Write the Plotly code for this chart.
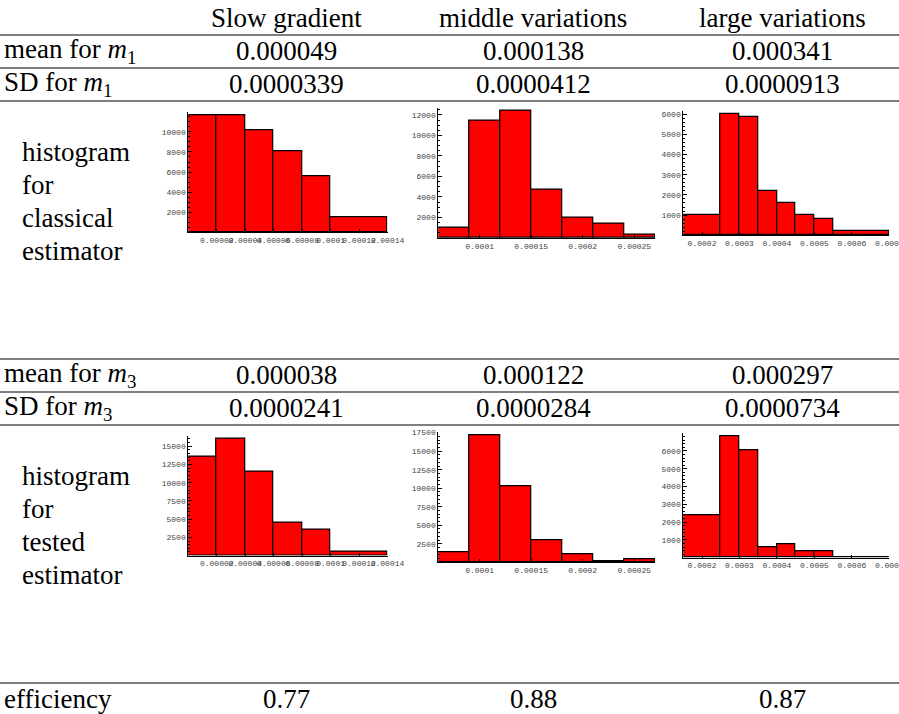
import plotly.graph_objects as go

W, H = 899, 714

# ---------------- data ----------------
columns = ["Slow gradient", "middle variations", "large variations"]
mean_m1 = ["0.000049", "0.000138", "0.000341"]
sd_m1 = ["0.0000339", "0.0000412", "0.0000913"]
mean_m3 = ["0.000038", "0.000122", "0.000297"]
sd_m3 = ["0.0000241", "0.0000284", "0.0000734"]
efficiency = ["0.77", "0.88", "0.87"]

slow_edges = [0, 0.00002, 0.00004, 0.00006, 0.00008, 0.0001, 0.00014]
slow_classical = [11660, 11660, 10130, 8060, 5560, 1460]
slow_tested = [13510, 16020, 11460, 4550, 3500, 600]

middle_edges = [0.00006, 0.00009, 0.00012, 0.00015, 0.00018, 0.00021, 0.00024, 0.00027]
middle_classical = [1005, 11440, 12420, 4680, 1980, 1370, 360]
middle_tested = [1340, 17110, 10240, 2980, 1020, 130, 400]

large_edges = [0.00015, 0.00025, 0.0003, 0.00035, 0.0004, 0.00045, 0.0005, 0.00055, 0.0007]
large_classical = [1000, 6030, 5850, 2200, 1590, 990, 805, 190]
large_tested = [2400, 6840, 6030, 590, 775, 360, 360, 40]

slow_xticks = [0.00002, 0.00004, 0.00006, 0.00008, 0.0001, 0.00012, 0.00014]
slow_xlabels = ["0.00002", "0.00004", "0.00006", "0.00008", "0.0001", "0.00012", "0.00014"]
middle_xticks = [0.0001, 0.00015, 0.0002, 0.00025]
middle_xlabels = ["0.0001", "0.00015", "0.0002", "0.00025"]
large_xticks = [0.0002, 0.0003, 0.0004, 0.0005, 0.0006, 0.0007]
large_xlabels = ["0.0002", "0.0003", "0.0004", "0.0005", "0.0006", "0.0007"]

yt_slow_c = [2000, 4000, 6000, 8000, 10000]
yt_mid_c = [2000, 4000, 6000, 8000, 10000, 12000]
yt_large = [1000, 2000, 3000, 4000, 5000, 6000]
yt_slow_t = [2500, 5000, 7500, 10000, 12500, 15000]
yt_mid_t = [2500, 5000, 7500, 10000, 12500, 15000, 17500]

# ---------------- layout helpers ----------------
SERIF = "Liberation Serif"
FS = 27
MONO = "Liberation Mono"


def px(xp):
    return xp / W


def py(yp):
    return 1 - yp / H


fig = go.Figure()

panels = [
    (slow_edges, slow_classical, (188.3, 387.5), (112.3, 232.3), 11950, yt_slow_c, 500, slow_xticks, slow_xlabels),
    (middle_edges, middle_classical, (438.3, 655.0), (107.7, 238.0), 12700, yt_mid_c, 500, middle_xticks, middle_xlabels),
    (large_edges, large_classical, (683.3, 889.3), (111.0, 235.2), 6170, yt_large, 200, large_xticks, large_xlabels),
    (slow_edges, slow_tested, (188.3, 387.5), (435.7, 555.6), 16450, yt_slow_t, 500, slow_xticks, slow_xlabels),
    (middle_edges, middle_tested, (438.3, 655.0), (432.3, 562.3), 17550, yt_mid_t, 500, middle_xticks, middle_xlabels),
    (large_edges, large_tested, (683.3, 889.3), (433.3, 557.7), 6990, yt_large, 200, large_xticks, large_xlabels),
]

tickfont = dict(family=MONO, size=8, color="#444")

for i, (edges, counts, xb, yb, ymax, yticks, minor, xt, xl) in enumerate(panels, start=1):
    centers = [(a + b) / 2 for a, b in zip(edges[:-1], edges[1:])]
    widths = [b - a for a, b in zip(edges[:-1], edges[1:])]
    xa = "x" if i == 1 else f"x{i}"
    ya = "y" if i == 1 else f"y{i}"
    fig.add_trace(go.Bar(
        x=centers, y=counts, width=widths,
        marker=dict(color="#ff0000", line=dict(color="black", width=1.2)),
        xaxis=xa, yaxis=ya, showlegend=False, hoverinfo="skip",
    ))
    xkey = "xaxis" if i == 1 else f"xaxis{i}"
    ykey = "yaxis" if i == 1 else f"yaxis{i}"
    span = edges[-1] - edges[0]
    fig.layout[xkey] = dict(
        domain=[px(xb[0]), px(xb[1])], range=[edges[0], edges[-1] + span * 1e-6],
        anchor=ya, showgrid=False, zeroline=False, showline=True,
        linecolor="black", linewidth=1, ticks="inside", ticklen=3,
        tickcolor="black", tickvals=xt, ticktext=xl, tickfont=tickfont,
        tickangle=0, ticklabeloverflow="allow", fixedrange=True, automargin=False,
    )
    fig.layout[ykey] = dict(
        domain=[py(yb[1]), py(yb[0])], range=[0, ymax],
        anchor=xa, showgrid=False, zeroline=False, showline=True,
        linecolor="black", linewidth=1, ticks="inside", ticklen=4,
        tickcolor="black", tickvals=yticks, ticktext=[str(v) for v in yticks],
        tickfont=tickfont, ticklabeloverflow="allow",
        minor=dict(ticks="inside", ticklen=2, dtick=minor, tickcolor="black", showgrid=False),
        fixedrange=True, automargin=False,
    )

# ---------------- table text ----------------
col_x = [286, 533, 782]
ann = []


def text(x, y, s, xanchor="center"):
    ann.append(dict(x=px(x), y=py(y), xref="paper", yref="paper", text=s,
                    showarrow=False, xanchor=xanchor, yanchor="middle",
                    font=dict(family=SERIF, size=FS, color="black")))


header_y, m1_y, sd1_y = 18, 51, 84
m3_y, sd3_y, eff_y = 375, 408, 699

for cx, c in zip(col_x, columns):
    text(cx, header_y, c)
for cx, v in zip(col_x, mean_m1):
    text(cx, m1_y, v)
for cx, v in zip(col_x, sd_m1):
    text(cx, sd1_y, v)
for cx, v in zip(col_x, mean_m3):
    text(cx, m3_y, v)
for cx, v in zip(col_x, sd_m3):
    text(cx, sd3_y, v)
for cx, v in zip(col_x, efficiency):
    text(cx, eff_y, v)

text(2, m1_y, "mean for <i>m</i><sub>1</sub>", "left")
text(2, sd1_y, "SD for <i>m</i><sub>1</sub>", "left")
text(2, m3_y, "mean for <i>m</i><sub>3</sub>", "left")
text(2, sd3_y, "SD for <i>m</i><sub>3</sub>", "left")
text(2, eff_y, "efficiency", "left")

for k, w in enumerate(["histogram", "for", "classical", "estimator"]):
    text(20, 152 + 33 * k, w, "left")
for k, w in enumerate(["histogram", "for", "tested", "estimator"]):
    text(20, 476 + 33 * k, w, "left")

# ---------------- rules ----------------
shapes = []
for yl in [35, 68, 101, 359, 392, 425, 683]:
    shapes.append(dict(type="line", xref="paper", yref="paper", x0=0, x1=1,
                       y0=py(yl), y1=py(yl), line=dict(color="#555", width=1.5)))

fig.update_layout(
    width=W, height=H, margin=dict(l=0, r=0, t=0, b=0),
    paper_bgcolor="white", plot_bgcolor="white",
    annotations=ann, shapes=shapes, bargap=0,
)

fig.write_html("out.html", config={"displayModeBar": False},
               post_script="document.body.style.margin='0';")
